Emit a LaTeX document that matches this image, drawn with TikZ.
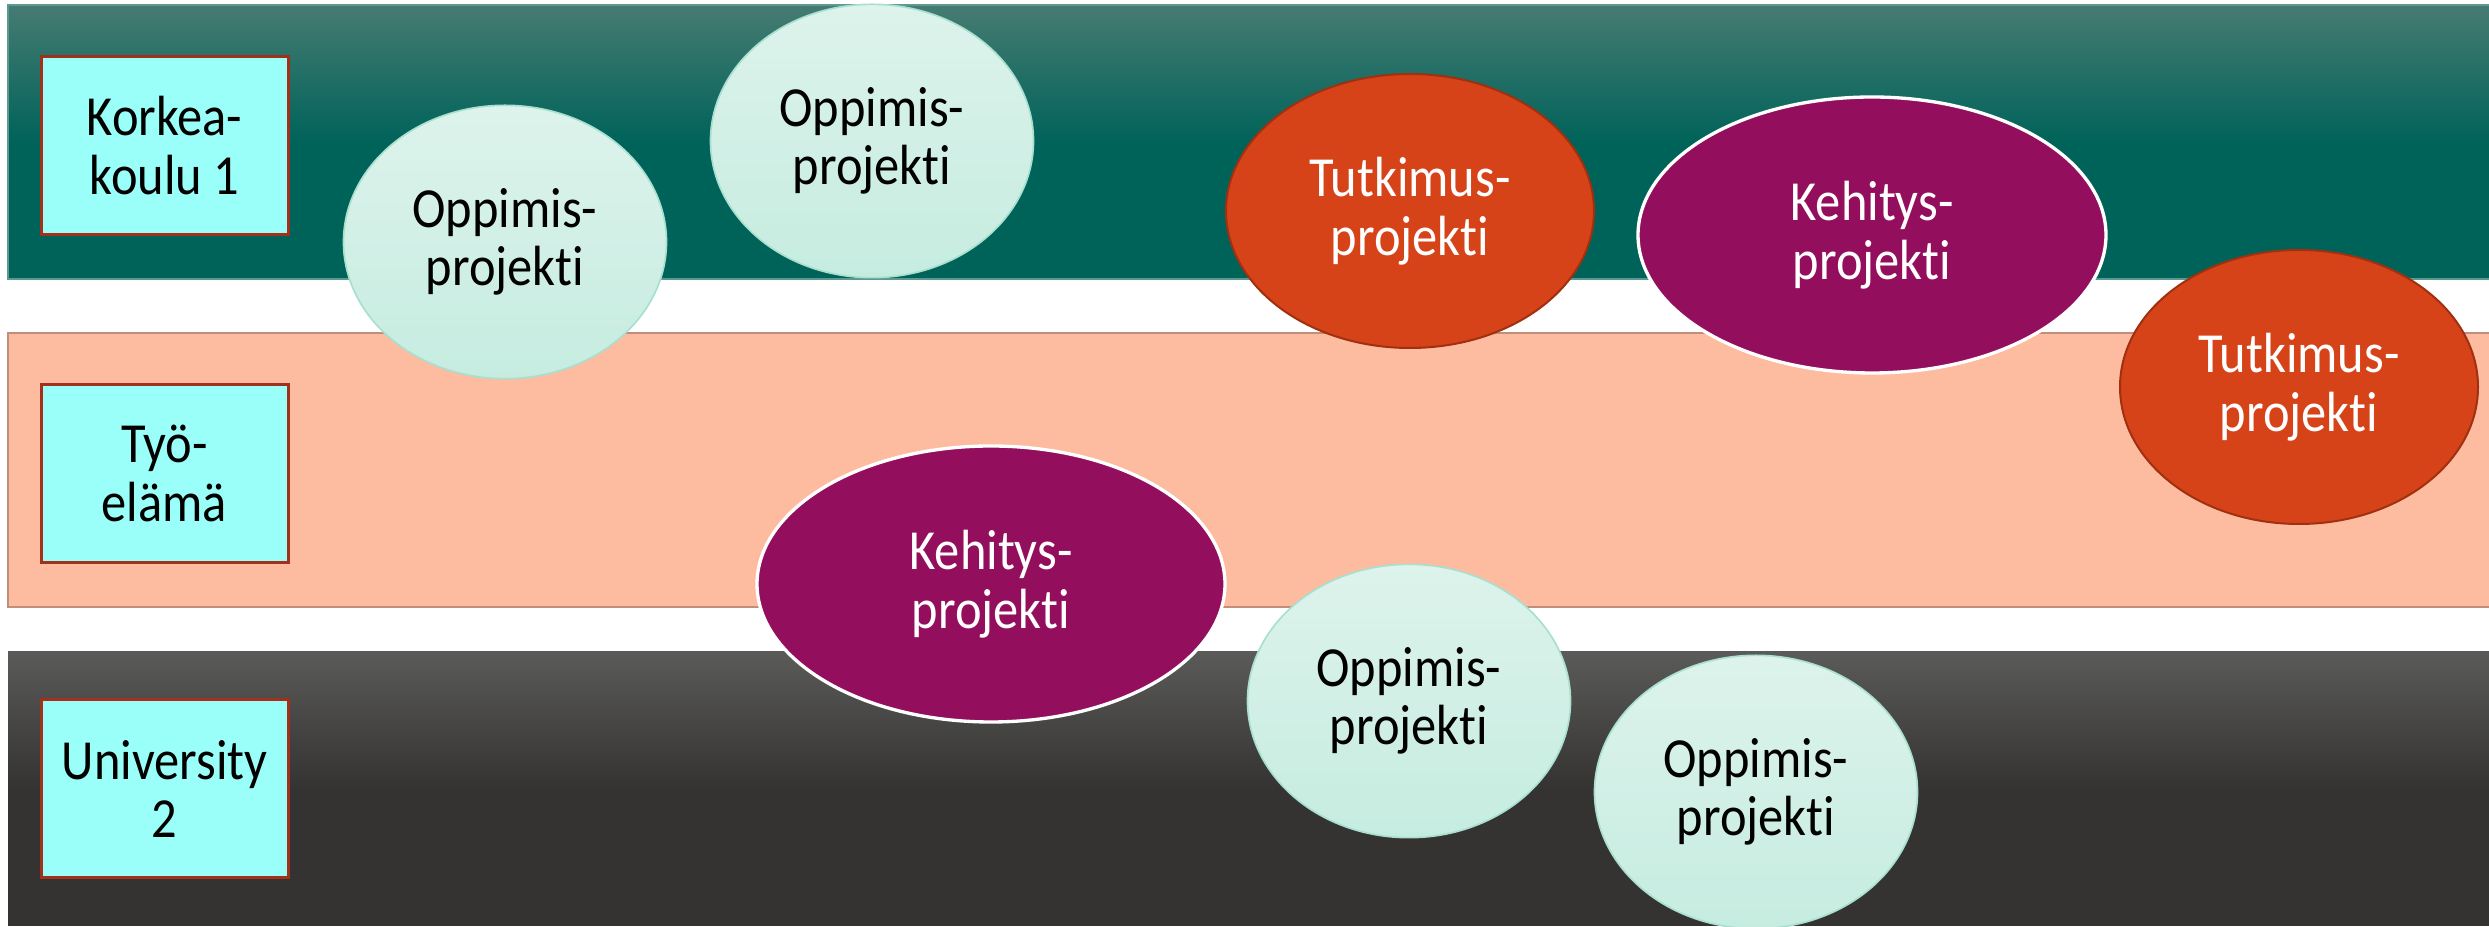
\documentclass[tikz,border=0pt]{standalone}
\usepackage{fontspec}
\setmainfont{Carlito}[FakeStretch=0.89, Ligatures={NoCommon}]
\usetikzlibrary{shapes.geometric}
\definecolor{tealtop}{HTML}{467B72}
\definecolor{tealbot}{HTML}{00635A}
\definecolor{tealedge}{HTML}{5A9A90}
\definecolor{peach}{HTML}{FDBC9F}
\definecolor{peachedge}{HTML}{C28E7C}
\definecolor{graytop}{HTML}{5A5A59}
\definecolor{graybot}{HTML}{343332}
\definecolor{aqua}{HTML}{99FFF8}
\definecolor{boxedge}{HTML}{A3301A}
\definecolor{mintop}{HTML}{DDF3EC}
\definecolor{minbot}{HTML}{C6ECE0}
\definecolor{minedge}{HTML}{A8DFCF}
\definecolor{rust}{HTML}{D64319}
\definecolor{rustedge}{HTML}{A0300F}
\definecolor{plum}{HTML}{930F5E}
\tikzset{
  lbl/.style={font=\fontsize{17}{17.6}\selectfont, align=center},
  sidebox/.style={lbl, draw=boxedge, line width=0.9pt, fill=aqua, inner sep=0pt,
    minimum width=74.1pt, minimum height=53.4pt, text=black},
  proj/.style={lbl, ellipse, inner sep=0pt},
  learn/.style={proj, draw=minedge, line width=0.5pt, top color=mintop, bottom color=minbot, text=black,
    minimum width=96.9pt, minimum height=82pt},
  research/.style={proj, draw=rustedge, line width=0.6pt, fill=rust, text=white, minimum height=82.2pt},
  devel/.style={proj, draw=white, line width=1pt, fill=plum, text=white, minimum height=82.8pt, minimum width=140.4pt},
}
\begin{document}
\begin{tikzpicture}[x=0.3pt,y=-0.3pt]
\useasboundingbox (0,0) rectangle (2489,927);
% bands
\shade[top color=tealtop, bottom color=tealbot, middle color=tealbot] (8,5) rectangle (2489,279);
\draw[tealedge, line width=0.5pt] (2489,5) -- (8,5) -- (8,279) -- (2489,279);
\fill[peach] (8,333) rectangle (2489,607);
\draw[peachedge, line width=0.8pt] (2489,333) -- (8,333) -- (8,607) -- (2489,607);
\shade[top color=graytop, bottom color=graybot, middle color=graybot] (8,652) rectangle (2489,926);
% side boxes
\node[sidebox] (hk1) at (164.5,145.5) {Korkea-\\koulu 1};
\node[sidebox] (tyo) at (164.5,473.5) {Työ-\\elämä};
\node[sidebox] (uni2) at (164.5,789) {University\\2};
% projects
\node[learn] (o1) at (505,242) {Oppimis-\\projekti};
\node[learn] (o2) at (872,141) {Oppimis-\\projekti};
\node[research, minimum width=110.4pt] (t1) at (1410,211) {Tutkimus-\\projekti};
\node[devel] (k1) at (1872,235) {Kehitys-\\projekti};
\node[research, minimum width=107.4pt] (t2) at (2299,387) {Tutkimus-\\projekti};
\node[devel] (k2) at (991,584) {Kehitys-\\projekti};
\node[learn] (o3) at (1409,701) {Oppimis-\\projekti};
\node[learn] (o4) at (1756,792) {Oppimis-\\projekti};
\end{tikzpicture}
\end{document}
